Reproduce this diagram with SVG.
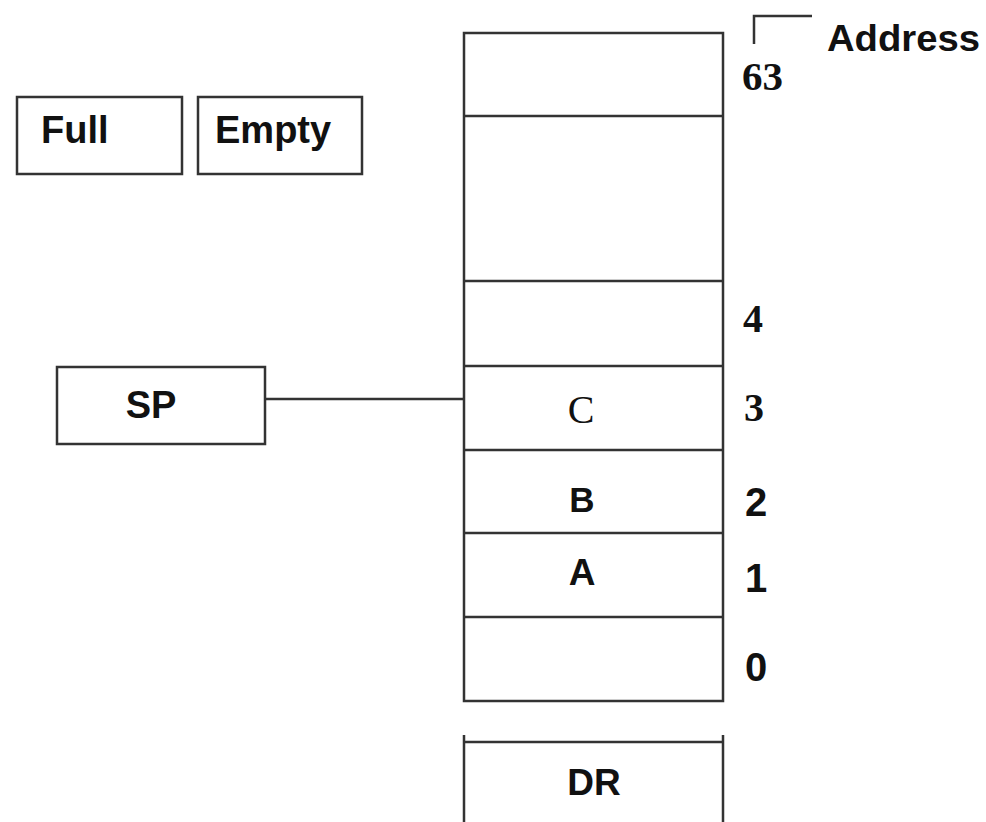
<svg xmlns="http://www.w3.org/2000/svg" width="986" height="822" viewBox="0 0 986 822">
<style>
.box{fill:#fff;stroke:#333;stroke-width:2.5}
.ln{stroke:#333;stroke-width:2.5;fill:none}
.sans{font-family:"Liberation Sans",Arial,sans-serif;font-weight:bold;fill:#111}
.serif{font-family:"Liberation Serif","Times New Roman",serif;font-weight:bold;fill:#111}
.serifn{font-family:"Liberation Serif","Times New Roman",serif;fill:#111}
</style>
<rect width="986" height="822" fill="#fff"/>
<g id="full"><rect class="box" x="17" y="97" width="165" height="77"/><text class="sans" x="41" y="143" font-size="38">Full</text></g>
<g id="empty"><rect class="box" x="198" y="97" width="164" height="77"/><text class="sans" x="215" y="143" font-size="38">Empty</text></g>
<g id="sp"><rect class="box" x="57" y="367" width="208" height="77"/><text class="sans" x="151" y="418" font-size="38" text-anchor="middle">SP</text></g>
<g id="memory">
<rect class="box" x="464" y="33" width="259" height="668"/>
<line class="ln" x1="464" y1="116" x2="723" y2="116"/>
<line class="ln" x1="464" y1="281" x2="723" y2="281"/>
<line class="ln" x1="464" y1="366" x2="723" y2="366"/>
<line class="ln" x1="464" y1="450" x2="723" y2="450"/>
<line class="ln" x1="464" y1="533" x2="723" y2="533"/>
<line class="ln" x1="464" y1="617" x2="723" y2="617"/>
<text class="serifn" x="581" y="423" font-size="40" text-anchor="middle">C</text>
<text class="sans" x="582" y="512" font-size="35" text-anchor="middle">B</text>
<text class="sans" x="582" y="585" font-size="37" text-anchor="middle">A</text>
</g>
<g id="addresses">
<path class="ln" d="M754 44 V16 H812"/>
<text class="sans" x="827" y="51" font-size="36" textLength="153" lengthAdjust="spacingAndGlyphs">Address</text>
<text class="serif" x="742" y="90" font-size="41">63</text>
<text class="serif" x="743" y="332" font-size="40">4</text>
<text class="serif" x="744" y="421" font-size="40">3</text>
<text class="sans" x="745" y="516" font-size="40">2</text>
<text class="sans" x="745" y="592" font-size="40">1</text>
<text class="sans" x="745" y="681" font-size="40">0</text>
</g>
<g id="dr">
<path class="ln" d="M464 735 V822 M723 735 V822 M464 742 H723"/>
<text class="sans" x="594" y="795" font-size="37" text-anchor="middle">DR</text>
</g>
<g id="connectors">
<line class="ln" x1="265" y1="399" x2="464" y2="399"/>
</g>
</svg>
